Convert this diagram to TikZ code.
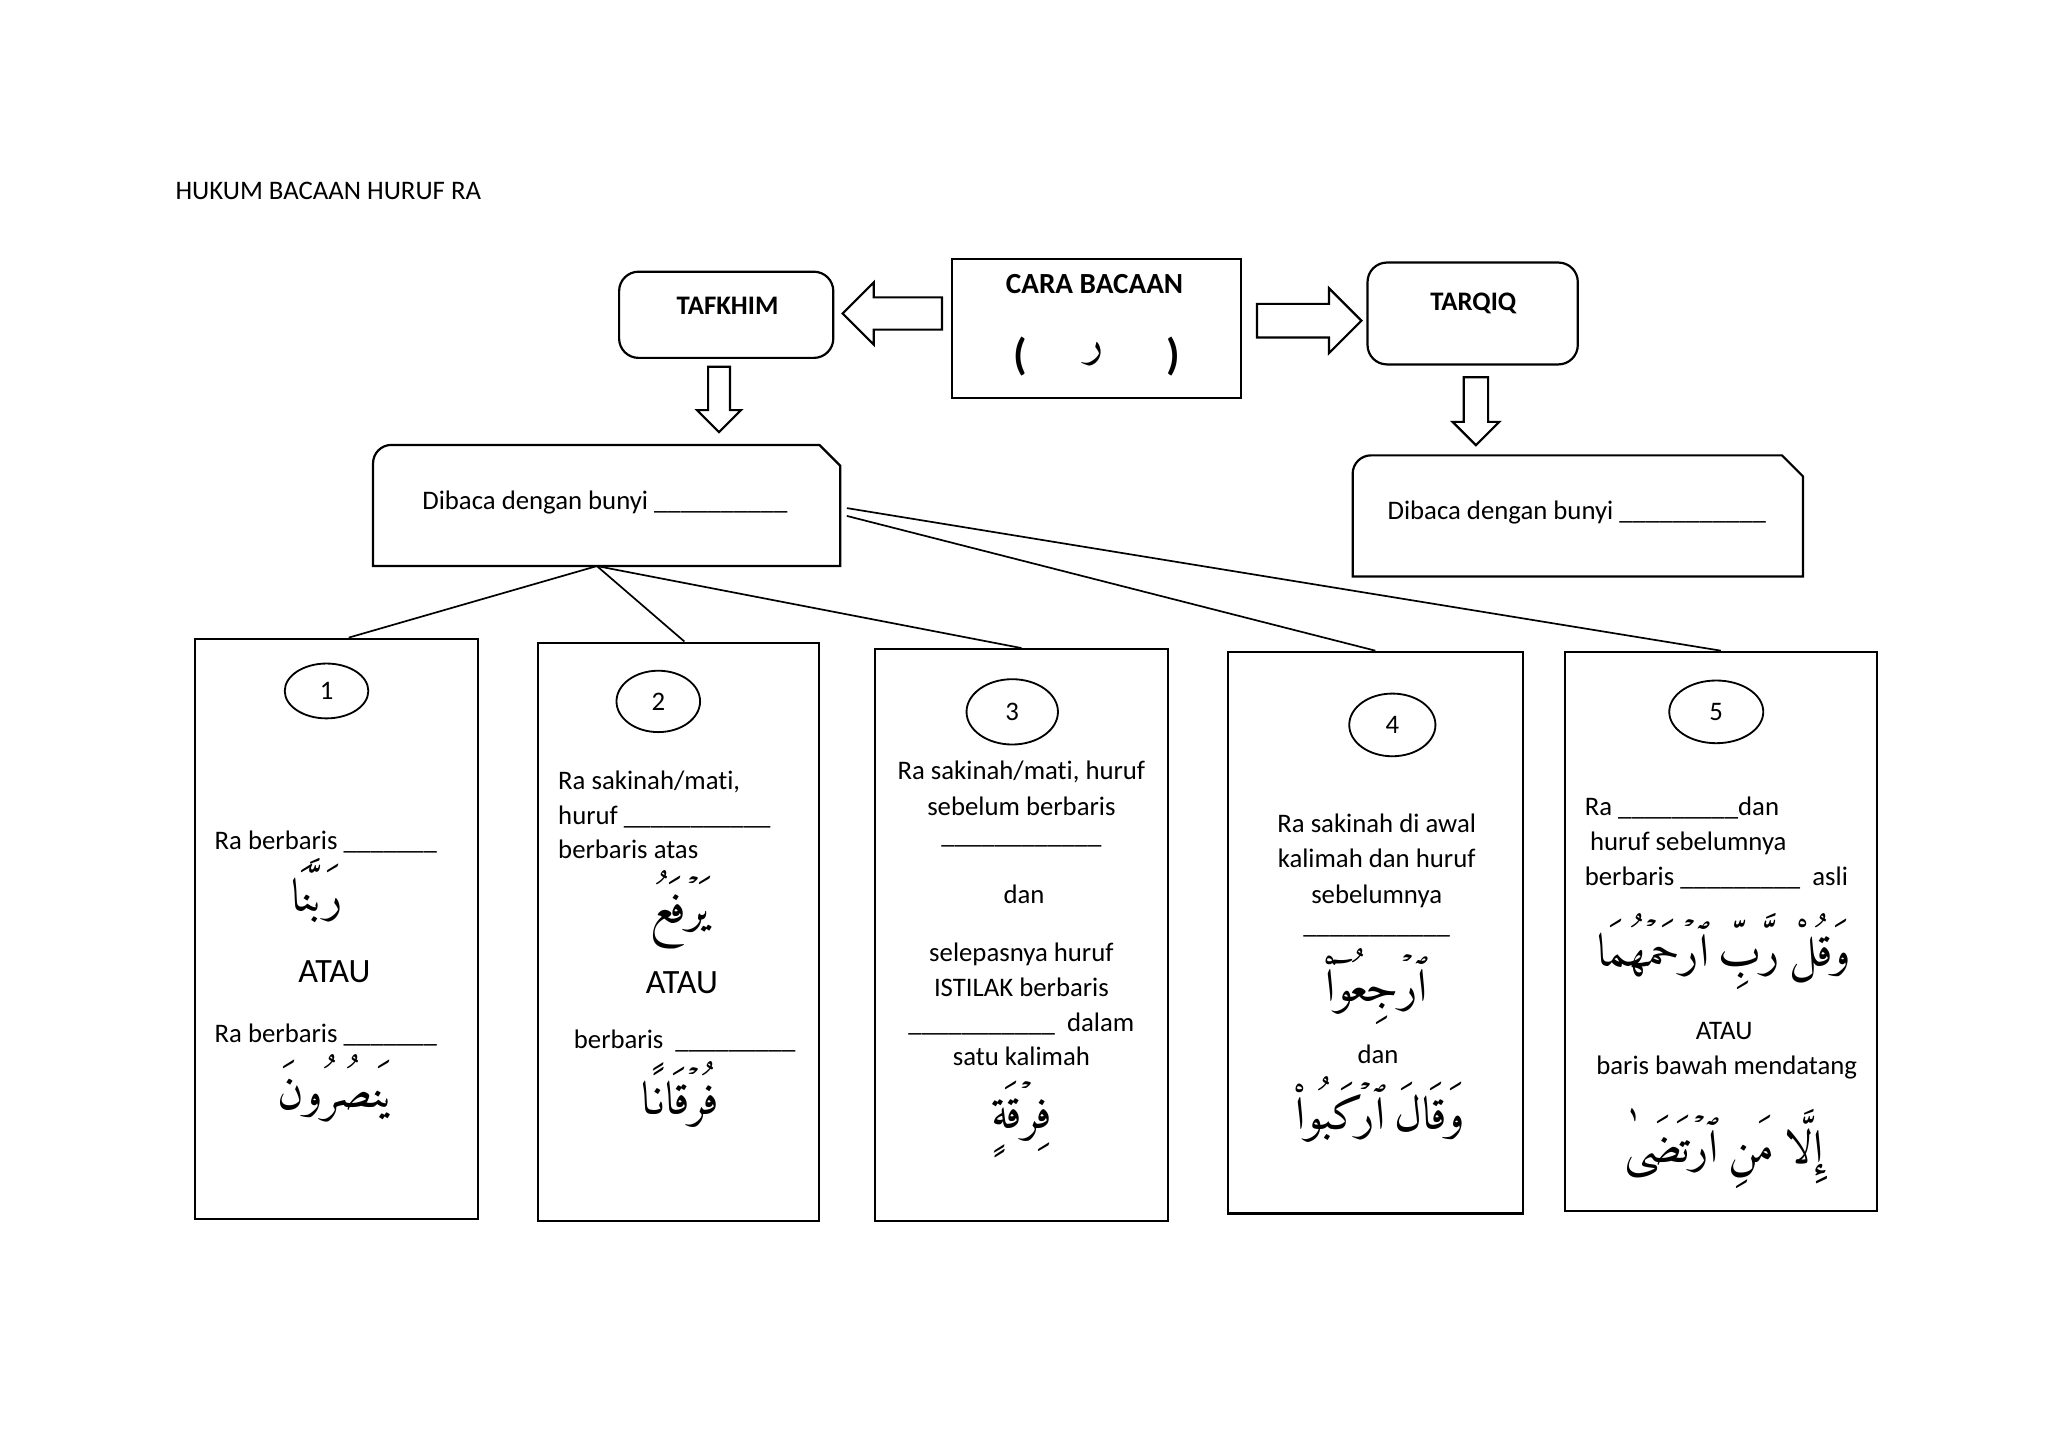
\documentclass[tikz,border=0pt]{standalone}
\usepackage{fontspec}
\setmainfont{Carlito}[Ligatures=NoCommon]
\IfFontExistsTF{Amiri-Regular.ttf}
  {\newfontfamily\arabicfont[Script=Arabic,WordSpace=0.7]{Amiri-Regular.ttf}\def\arfs{19}\def\rafs{19}}
  {\newfontfamily\arabicfont[Script=Arabic]{DejaVu Sans}\def\arfs{16}\def\rafs{13}}
\TeXXeTstate=1
\usetikzlibrary{shapes.geometric,shapes.arrows,calc}
\def\pxu{0.537pt}
\begin{document}
\begin{tikzpicture}[x=0.537pt,y=-0.537pt,
  box/.style={draw, line width=0.9pt, inner sep=0pt},
  rbox/.style={box, rounded corners=8pt},
  txt/.style={inner sep=0pt, font=\fontsize{11}{14}\selectfont},
  bold/.style={inner sep=0pt, font=\fontsize{11}{14}\selectfont\bfseries},
  big/.style={inner sep=0pt, font=\fontsize{14}{16}\selectfont},
  ar/.style={inner sep=0pt, anchor=base, font=\fontsize{\arfs}{24}\arabicfont},
  num/.style={draw, ellipse, line width=0.75pt, inner sep=0pt, font=\fontsize{11}{13}\selectfont},
  blockarrow/.style={draw, single arrow, line width=0.9pt, single arrow tip angle=90, anchor=tail},
  link/.style={line width=0.7pt},
  snipped/.style={line width=0.9pt}
]
\useasboundingbox (0,0) rectangle (1568,1108);

\node[txt, anchor=base west] (title) at (134,152.5) {HUKUM BACAAN HURUF RA};

% top row
\node[rbox, minimum width=164*\pxu, minimum height=66*\pxu] (taf) at (556,241) {};
\node[bold, anchor=base] (taft) at (557,240.5) {TAFKHIM};
\node[box, minimum width=221*\pxu, minimum height=107*\pxu] (cara) at (839.5,251.5) {};
\node[inner sep=0pt, font=\fontsize{12}{14}\selectfont\bfseries, anchor=base] (carat) at (838,225) {CARA BACAAN};
\node[inner sep=0pt, font=\fontsize{18}{20}\selectfont\bfseries] (lp) at (781,273) {(};
\node[inner sep=0pt, font=\fontsize{\rafs}{22}\arabicfont] (rah) at (838,271) {ر};
\node[inner sep=0pt, font=\fontsize{18}{20}\selectfont\bfseries] (rp) at (898,273) {)};
\node[rbox, minimum width=161*\pxu, minimum height=78*\pxu] (tar) at (1127.5,240) {};
\node[bold, anchor=base] (tart) at (1128,237.5) {TARQIQ};

% block arrows
\node[blockarrow, shape border rotate=180, minimum height=76*\pxu, inner xsep=0pt, inner ysep=11.5*\pxu, single arrow head extend=11.5*\pxu] (larr) at (722,240) {};
\node[blockarrow, minimum height=80*\pxu, inner xsep=0pt, inner ysep=12*\pxu, single arrow head extend=12*\pxu] (rarr) at (961.5,245.5) {};
\node[blockarrow, shape border rotate=270, minimum height=50*\pxu, inner ysep=0pt, inner xsep=7.5*\pxu, single arrow head extend=8.5*\pxu] (darr1) at (550.5,280) {};
\node[blockarrow, shape border rotate=270, minimum height=52*\pxu, inner ysep=0pt, inner xsep=8.5*\pxu, single arrow head extend=8.5*\pxu] (darr2) at (1130,288) {};

% Dibaca boxes
\node[minimum width=357*\pxu, minimum height=92*\pxu, inner sep=0pt] (dl) at (464.5,387) {};
\draw[snipped] (dl.south west) -- ($(dl.north west)+(0,14)$)
  .. controls ($(dl.north west)+(0,6.3)$) and ($(dl.north west)+(6.3,0)$) .. ($(dl.north west)+(14,0)$)
  -- ($(dl.north east)+(-16,0)$) -- ($(dl.north east)+(0,16)$) -- (dl.south east) -- cycle;
\node[txt, anchor=base west] (dlt) at (323,390) {Dibaca dengan bunyi \_\_\_\_\_\_\_\_\_\_};

\node[minimum width=344*\pxu, minimum height=92*\pxu, inner sep=0pt] (dr) at (1208,395) {};
\draw[snipped] (dr.south west) -- ($(dr.north west)+(0,14)$)
  .. controls ($(dr.north west)+(0,6.3)$) and ($(dr.north west)+(6.3,0)$) .. ($(dr.north west)+(14,0)$)
  -- ($(dr.north east)+(-16,0)$) -- ($(dr.north east)+(0,16)$) -- (dr.south east) -- cycle;
\node[txt, anchor=base west] (drt) at (1062,398) {Dibaca dengan bunyi \_\_\_\_\_\_\_\_\_\_\_};

% five boxes
\node[box, minimum width=217*\pxu, minimum height=444*\pxu] (b1) at (257.5,711) {};
\node[box, minimum width=215*\pxu, minimum height=443*\pxu] (b2) at (519.5,713.5) {};
\node[box, minimum width=224*\pxu, minimum height=438*\pxu] (b3) at (782,716) {};
\node[box, minimum width=226*\pxu, minimum height=430*\pxu] (b4) at (1053,714) {};
\node[box, minimum width=239*\pxu, minimum height=428*\pxu] (b5) at (1317.5,713) {};

\node[num, minimum width=64*\pxu, minimum height=42*\pxu] (n1) at (250,529) {1};
\node[num, minimum width=64*\pxu, minimum height=47*\pxu] (n2) at (504,537) {2};
\node[num, minimum width=70*\pxu, minimum height=50*\pxu] (n3) at (775,545) {3};
\node[num, minimum width=66*\pxu, minimum height=48*\pxu] (n4) at (1066,555) {4};
\node[num, minimum width=72*\pxu, minimum height=48*\pxu] (n5) at (1314,545) {5};

% connectors
\coordinate (hub) at ($(dl.south)+(-7.5,0)$);
\draw[link] (hub) -- ($(b1.north)+(9.5,0)$);
\draw[link] (hub) -- ($(b2.north)+(4.5,0)$);
\draw[link] (hub) -- (b3.north);
\draw[link] ($(dl.east)+(5,2)$) -- (b5.north);
\draw[link] ($(dl.east)+(5,8)$) -- (b4.north);

% box 1
\node[txt, anchor=base west] (t1a) at (164,650) {Ra berbaris \_\_\_\_\_\_\_};
\node[ar] (a1) at (243,698) {\beginR رَبَّنَا\endR};
\node[big] (o1) at (256,744) {ATAU};
\node[txt, anchor=base west] (t1b) at (164,798) {Ra berbaris \_\_\_\_\_\_\_};
\node[ar] (a2) at (257,848) {\beginR يَنصُرُونَ\endR};

% box 2
\node[txt, anchor=base west] (t2a) at (427,604.5) {Ra sakinah/mati,};
\node[txt, anchor=base west] (t2b) at (427,631) {huruf \_\_\_\_\_\_\_\_\_\_\_};
\node[txt, anchor=base west] (t2c) at (427,657.5) {berbaris atas};
\node[ar] (a3) at (520,707) {\beginR يَرۡفَعُ\endR};
\node[big] (o2) at (522,752) {ATAU};
\node[txt, anchor=base west] (t2d) at (439,803) {berbaris~~\_\_\_\_\_\_\_\_\_};
\node[ar] (a4) at (521,853) {\beginR فُرۡقَانًا\endR};

% box 3
\node[txt, anchor=base] (t3a) at (782,597) {Ra sakinah/mati, huruf};
\node[txt, anchor=base] (t3b) at (782,624) {sebelum berbaris};
\node[txt, anchor=base] (t3c) at (782,646) {\_\_\_\_\_\_\_\_\_\_\_\_};
\node[txt, anchor=base] (t3d) at (784,692) {dan};
\node[txt, anchor=base] (t3e) at (782,736) {selepasnya huruf};
\node[txt, anchor=base] (t3f) at (782,763) {ISTILAK berbaris};
\node[txt, anchor=base] (t3g) at (782,790) {\_\_\_\_\_\_\_\_\_\_\_~~dalam};
\node[txt, anchor=base] (t3h) at (782,816) {satu kalimah};
\node[ar] (a5) at (782,864) {\beginR فِرۡقَةٍ\endR};

% box 4
\node[txt, anchor=base] (t4a) at (1054,637) {Ra sakinah di awal};
\node[txt, anchor=base] (t4b) at (1054,664) {kalimah dan huruf};
\node[txt, anchor=base] (t4c) at (1054,692) {sebelumnya};
\node[txt, anchor=base] (t4d) at (1054,715) {\_\_\_\_\_\_\_\_\_\_\_};
\node[ar] (a6) at (1054,767) {\beginR ٱرۡجِعُوٓاْ\endR};
\node[txt, anchor=base] (t4e) at (1055,814) {dan};
\node[ar] (a7) at (1057,865) {\beginR وَقَالَ ٱرۡكَبُواْ\endR};

% box 5
\node[txt, anchor=base west] (t5a) at (1213,624) {Ra \_\_\_\_\_\_\_\_\_dan};
\node[txt, anchor=base west] (t5b) at (1217,651) {huruf sebelumnya};
\node[txt, anchor=base west] (t5c) at (1213,678) {berbaris \_\_\_\_\_\_\_\_\_~~asli};
\node[ar] (a8) at (1320,740) {\beginR وَقُلْ رَّبِّ ٱرۡحَمۡهُمَا\endR};
\node[txt, anchor=base] (t5d) at (1320,796) {ATAU};
\node[txt, anchor=base] (t5e) at (1322,823) {baris bawah mendatang};
\node[ar] (a9) at (1320,890) {\beginR إِلَّا مَنِ ٱرۡتَضَىٰ\endR};
\end{tikzpicture}
\end{document}
